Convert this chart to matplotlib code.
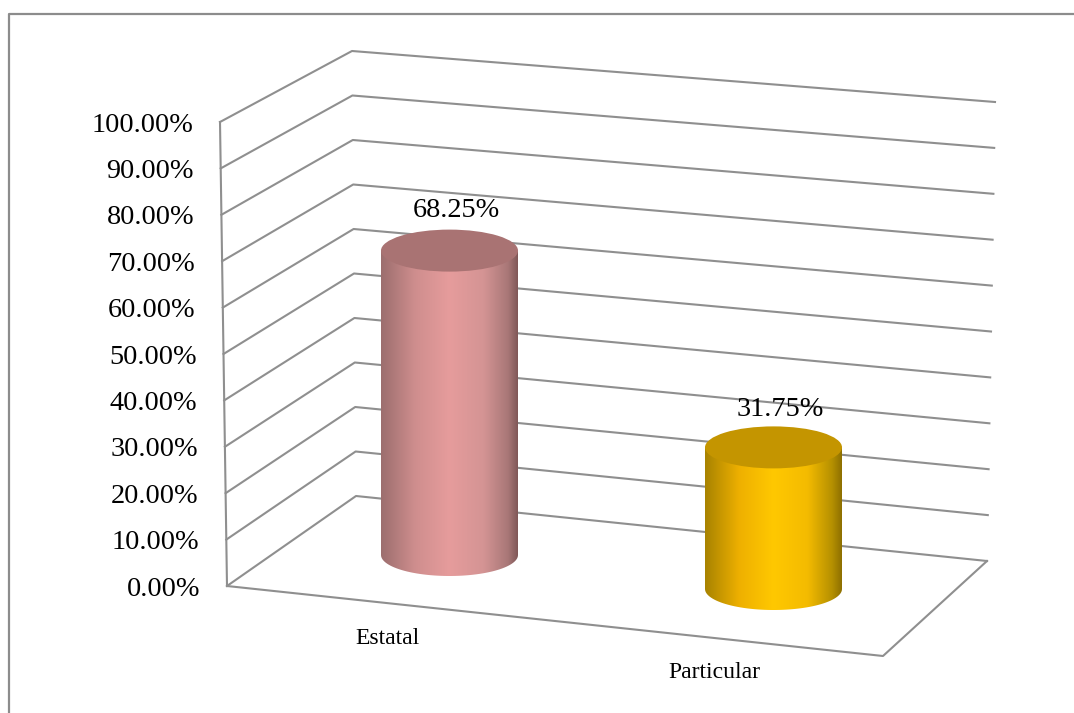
import numpy as np
import matplotlib.pyplot as plt
from matplotlib.colors import LinearSegmentedColormap
from matplotlib.patches import Ellipse, PathPatch
from matplotlib.path import Path

categories = ['Estatal', 'Particular']
values = [68.25, 31.75]
ticks = [0, 10, 20, 30, 40, 50, 60, 70, 80, 90, 100]

plt.rcParams['font.family'] = ['Liberation Serif']

fig = plt.figure(figsize=(10.74, 7.13), dpi=100)
ax = fig.add_axes([0, 0, 1, 1])
ax.set_xlim(0, 1074)
ax.set_ylim(713, 0)
ax.axis('off')

grey = '#8f8f8f'

# outer frame, only left and top show
ax.plot([9, 9, 1074], [713, 14, 14], color='#8c8c8c', lw=1.6, zorder=1)


# the three upright edges of the fake 3d box, value -> pixel
def front(v):
    return 227 - 7 * v / 100, 586 - 464 * v / 100


def back(v):
    return 356 - 4 * v / 100, 496 - 445 * v / 100


def right(v):
    return 987 + 8 * v / 100, 561 - 459 * v / 100


for t in ticks:
    x0, y0 = front(t)
    x1, y1 = back(t)
    x2, y2 = right(t)
    ax.plot([x0, x1, x2], [y0, y1, y2], color=grey, lw=1.5, zorder=2)
    ax.text(x0 - 27, y0 + 3, '%.2f%%' % t, ha='right', va='center', fontsize=20.3, color='black', zorder=6)

# left wall edge and floor
ax.plot(*zip(front(0), front(100)), color=grey, lw=1.5, zorder=2)
ax.plot([227, 883, 987], [586, 656, 561], color=grey, lw=1.5, zorder=2)


def cylinder(cx, base_y, value, stops, top_color):
    rx, ry = 68.5, 21
    top_y = base_y - value * 4.46
    cmap = LinearSegmentedColormap.from_list('c', stops)
    verts = [(cx - rx, top_y), (cx - rx, base_y)]
    codes = [Path.MOVETO, Path.LINETO]
    # lower rim of the base
    t = np.linspace(np.pi, 0, 60)
    for a in t:
        verts.append((cx + rx * np.cos(a), base_y + ry * np.sin(a)))
        codes.append(Path.LINETO)
    verts += [(cx + rx, top_y), (cx - rx, top_y)]
    codes += [Path.LINETO, Path.CLOSEPOLY]
    body = PathPatch(Path(verts, codes), fc='none', ec='none', transform=ax.transData)
    ax.add_patch(body)
    grad = np.linspace(0, 1, 256).reshape(1, -1)
    im = ax.imshow(grad, cmap=cmap, extent=[cx - rx, cx + rx, base_y + ry, top_y],
                   aspect='auto', zorder=3)
    im.set_clip_path(body)
    ax.add_patch(Ellipse((cx, top_y), 2 * rx, 2 * ry, fc=top_color, ec='none', zorder=4))
    return top_y


rose = [(0, '#9c6e6e'), (0.25, '#cf8e8e'), (0.5, '#e69c9c'), (0.75, '#d49494'), (0.93, '#a87777'), (1, '#805858')]
gold = [(0, '#a88300'), (0.25, '#eeb000'), (0.5, '#ffc800'), (0.75, '#f4bb00'), (0.93, '#b59000'), (1, '#8e7000')]
shades = [(rose, '#a97373'), (gold, '#c49500')]

bar_x = [449.5, 773.5]
bar_base = [555, 589]
label_pos = [(387, 639), (714, 673)]
label_rise = [40, 38]

for i, v in enumerate(values):
    top = cylinder(bar_x[i], bar_base[i], v, shades[i][0], shades[i][1])
    ax.text(bar_x[i] + 7, top - label_rise[i], '%.2f%%' % v, ha='center', va='center', fontsize=20.3, color='black', zorder=6)
    ax.text(label_pos[i][0], label_pos[i][1], categories[i], ha='center', va='center', fontsize=17, color='black', zorder=6)

ax.set_xlim(0, 1074)
ax.set_ylim(713, 0)
fig.savefig('out.png', dpi=100)
